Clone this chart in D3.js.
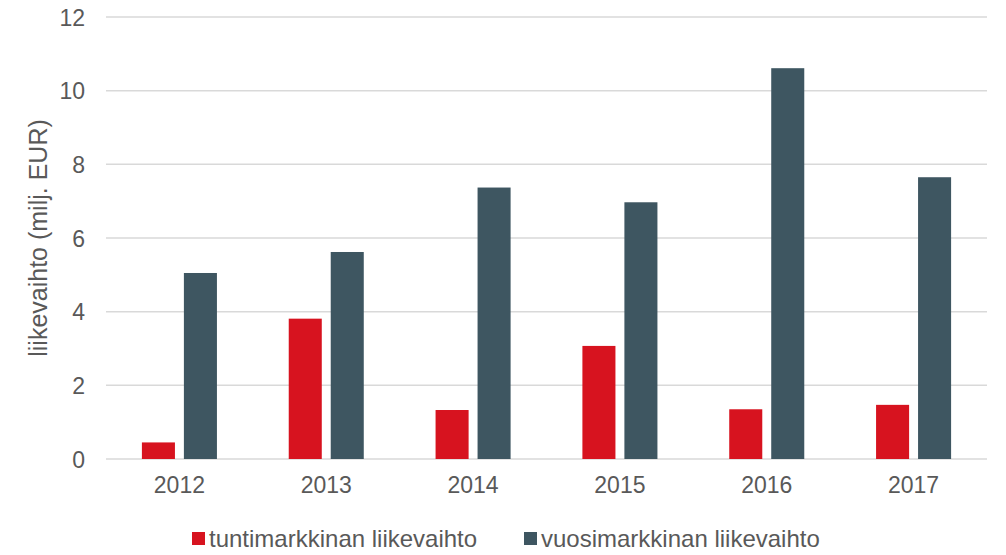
<!DOCTYPE html>
<html>
<head>
<meta charset="utf-8">
<script src="https://cdn.jsdelivr.net/npm/d3@7"></script>
<style>
  body { margin: 0; background: #fff; }
  text { font-family: "Liberation Sans", Arial, sans-serif; fill: #595959; }
</style>
</head>
<body>
<div id="chart"></div>
<script>
const years = ["2012", "2013", "2014", "2015", "2016", "2017"];
const tuntiValues = [0.45, 3.81, 1.33, 3.07, 1.35, 1.47];
const vuosiValues = [5.05, 5.62, 7.37, 6.97, 10.61, 7.65];
const yTicks = [0, 2, 4, 6, 8, 10, 12];
const seriesNames = ["tuntimarkkinan liikevaihto", "vuosimarkkinan liikevaihto"];
const colors = ["#d7131f", "#3e5661"];

const width = 1006, height = 555;
const plotLeft = 106, plotRight = 987, plotTop = 17, plotBottom = 459;

const svg = d3.select("#chart")
    .append("svg")
    .attr("width", width)
    .attr("height", height);

const x = d3.scaleBand().domain(years).range([plotLeft, plotRight]);
const y = d3.scaleLinear().domain([0, 12]).range([plotBottom, plotTop]);

// gridlines
svg.append("g")
    .selectAll("line")
    .data(yTicks)
    .enter()
    .append("line")
    .attr("x1", plotLeft)
    .attr("x2", plotRight)
    .attr("y1", d => y(d))
    .attr("y2", d => y(d))
    .attr("stroke", "#d9d9d9")
    .attr("stroke-width", 1.5);

// y tick labels
svg.append("g")
    .selectAll("text")
    .data(yTicks)
    .enter()
    .append("text")
    .attr("x", 85)
    .attr("y", d => y(d) + 8.5)
    .attr("text-anchor", "end")
    .attr("font-size", "23px")
    .text(d => d);

// x tick labels
svg.append("g")
    .selectAll("text")
    .data(years)
    .enter()
    .append("text")
    .attr("x", d => x(d) + x.bandwidth() / 2)
    .attr("y", 493)
    .attr("text-anchor", "middle")
    .attr("font-size", "23px")
    .text(d => d);

const barW = x.bandwidth() * 0.225;
const gap = x.bandwidth() * 0.061;

const series = [tuntiValues, vuosiValues];
series.forEach((vals, si) => {
    svg.append("g")
        .selectAll("rect")
        .data(vals)
        .enter()
        .append("rect")
        .attr("x", (d, i) => {
            const c = x(years[i]) + x.bandwidth() / 2;
            return si === 0 ? c - gap / 2 - barW : c + gap / 2;
        })
        .attr("y", d => y(d))
        .attr("width", barW)
        .attr("height", d => plotBottom - y(d))
        .attr("fill", colors[si]);
});

// y axis title, centred on the plot area
svg.append("text")
    .attr("transform", `translate(47, ${(plotTop + plotBottom) / 2}) rotate(-90)`)
    .attr("text-anchor", "middle")
    .attr("font-size", "25px")
    .text("liikevaihto (milj. EUR)");

// legend
const legendX = [192, 524];
const legend = svg.append("g")
    .selectAll("g")
    .data(seriesNames)
    .enter()
    .append("g")
    .attr("transform", (d, i) => `translate(${legendX[i]}, 532)`);

legend.append("rect")
    .attr("width", 13)
    .attr("height", 13)
    .attr("fill", (d, i) => colors[i]);

legend.append("text")
    .attr("x", 17)
    .attr("y", 15)
    .attr("font-size", "24px")
    .text(d => d);
</script>
</body>
</html>
